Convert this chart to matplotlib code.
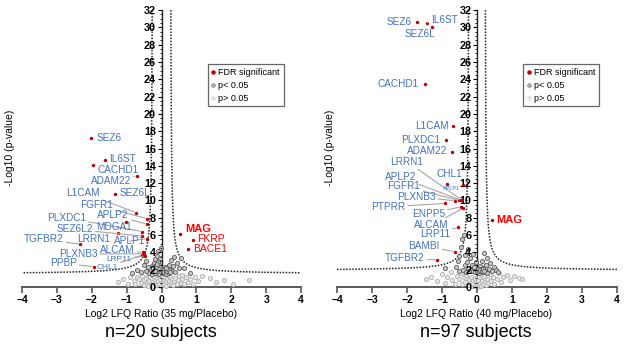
import numpy as np
import matplotlib
matplotlib.use('Agg')
import matplotlib.pyplot as plt
from matplotlib.lines import Line2D

plt.rcParams['font.family'] = ['Liberation Sans', 'DejaVu Sans']

# ---- left panel (35 mg, n=20) ----
left_genes = ['SEZ6', 'IL6ST', 'CACHD1', 'ADAM22', 'SEZ6L', 'L1CAM', 'FGFR1',
              'APLP2', 'PLXDC1', 'MDGA1', 'SEZ6L2', 'LRRN1', 'TGFBR2', 'APLP1',
              'ALCAM', 'PLXNB3', 'LRP11', 'PPBP', 'CHL1']
left_x = [-2.01, -1.62, -1.97, -0.70, -1.32, -0.73, -0.41, -0.41, -0.55, -1.03,
          -0.57, -1.25, -2.34, -0.41, -0.54, -0.50, -0.47, -1.94, -0.55]
left_y = [17.2, 14.7, 14.05, 12.85, 10.8, 8.6, 7.9, 7.27, 6.4, 7.47,
          5.9, 6.3, 4.96, 5.6, 4.0, 3.85, 3.6, 2.35, 3.7]
left_up_genes = ['MAG', 'FKRP', 'BACE1']
left_up_x = [0.54, 0.90, 0.75]
left_up_y = [6.08, 5.4, 4.35]

left_sig_x = [-0.35, -0.3, -0.28, -0.26, -0.24, -0.22, -0.2, -0.19, -0.18, -0.16,
              -0.15, -0.14, -0.12, -0.11, -0.1, -0.09, -0.08, -0.07, -0.06, -0.05,
              -0.04, -0.03, -0.02, 0.03, 0.05, 0.08, 0.1, 0.12, 0.14, 0.16,
              0.18, 0.2, 0.22, 0.25, 0.28, 0.3, 0.33, 0.36, 0.4, 0.45,
              0.5, 0.55, -0.4, -0.45, -0.5, -0.6, -0.7, -0.85, -0.45, 0.64,
              -0.25, -0.2, -0.15, -0.12, -0.08, 0.15, 0.2, 0.24, 0.12, 0.83]
left_sig_y = [1.6, 2.0, 1.5, 2.4, 1.8, 2.8, 2.1, 1.6, 3.2, 2.5,
              1.9, 3.6, 2.2, 1.7, 2.9, 4.2, 2.0, 1.5, 2.6, 3.4,
              1.8, 2.3, 4.5, 1.6, 2.0, 1.7, 2.3, 1.9, 1.55, 2.1,
              1.75, 2.6, 1.6, 2.0, 3.1, 1.8, 2.4, 3.5, 1.7, 2.8,
              2.2, 3.3, 2.3, 1.9, 2.6, 1.7, 2.0, 1.6, 3.0, 2.16,
              2.2, 1.9, 2.3, 2.7, 2.1, 1.8, 2.0, 1.7, 2.2, 1.58]
left_ns_x = [-1.25, -1.1, -0.95, -0.9, -0.8, -0.75, -0.7, -0.65, -0.6, -0.55,
             -0.5, -0.5, -0.45, -0.42, -0.4, -0.38, -0.35, -0.33, -0.3, -0.28,
             -0.25, -0.24, -0.22, -0.2, -0.18, -0.16, -0.14, -0.12, -0.1, -0.08,
             -0.06, -0.04, -0.02, 0.0, 0.02, 0.04, 0.06, 0.08, 0.1, 0.12,
             0.14, 0.17, 0.2, 0.22, 0.25, 0.28, 0.3, 0.33, 0.36, 0.4,
             0.43, 0.47, 0.5, 0.55, 0.6, 0.65, 0.7, 0.75, 0.82, 0.9,
             0.95, 1.05, 1.17, 1.4, 1.55, 1.79, 2.05, 2.5, 0.59]
left_ns_y = [0.6, 0.9, 0.4, 1.1, 0.7, 0.3, 1.2, 0.9, 0.5, 1.3,
             0.2, 0.8, 1.0, 0.5, 1.3, 0.15, 0.7, 1.1, 0.4, 0.9,
             0.1, 0.6, 1.2, 0.3, 0.8, 0.5, 1.0, 0.2, 0.65, 1.3,
             0.35, 0.9, 0.1, 0.5, 1.1, 0.25, 0.75, 0.4, 1.2, 0.15,
             0.6, 0.95, 0.3, 0.7, 1.15, 0.45, 0.9, 0.2, 0.65, 1.0,
             0.35, 0.8, 1.3, 0.5, 0.9, 0.3, 1.1, 0.6, 0.95, 0.4,
             1.2, 0.7, 1.27, 1.0, 0.6, 0.8, 0.4, 0.8, 1.39]

# ---- right panel (40 mg, n=97) ----
right_genes = ['SEZ6', 'IL6ST', 'SEZ6L', 'CACHD1', 'L1CAM', 'PLXDC1', 'ADAM22',
               'LRRN1', 'CHL1', 'APLP1', 'APLP2', 'FGFR1', 'PLXNB3', 'PTPRR',
               'ENPP5', 'ALCAM', 'LRP11', 'BAMBI', 'TGFBR2']
right_x = [-1.72, -1.42, -1.28, -1.49, -0.68, -0.89, -0.72,
           -0.45, -0.41, -0.87, -0.44, -0.50, -0.63, -0.91,
           -0.46, -0.41, -0.53, -0.63, -1.13]
right_y = [30.6, 30.55, 30.0, 23.5, 18.6, 17.0, 15.6,
           10.1, 11.8, 11.9, 10.0, 10.0, 9.97, 9.66,
           9.27, 9.08, 6.9, 4.08, 3.12]
right_up_genes = ['MAG']
right_up_x = [0.44]
right_up_y = [7.74]

right_sig_x = [-0.4, -0.35, -0.3, -0.28, -0.25, -0.22, -0.2, -0.18, -0.15, -0.12,
               -0.1, -0.08, -0.06, -0.04, 0.04, 0.06, 0.08, 0.1, 0.12, 0.14,
               0.16, 0.18, 0.2, 0.22, 0.25, 0.28, 0.3, 0.33, 0.37, 0.42,
               0.48, 0.55, 0.6, -0.5, -0.6, -0.55, -0.5, -0.45, -0.42, -0.38,
               0.0, 0.02, 0.05, 0.09, 0.13, 0.17, 0.21, -0.33, -0.27, -0.9]
right_sig_y = [2.0, 2.5, 1.7, 2.9, 2.2, 1.8, 3.3, 2.0, 2.6, 1.9,
               3.8, 2.3, 1.7, 2.9, 2.0, 1.6, 2.4, 1.8, 2.1, 3.0,
               1.7, 2.2, 3.9, 1.9, 2.6, 1.6, 3.4, 2.1, 2.8, 1.9,
               2.3, 2.0, 1.7, 1.8, 2.3, 3.0, 3.6, 4.6, 5.5, 6.0,
               1.9, 2.1, 1.8, 2.0, 1.9, 2.1, 1.8, 3.7, 4.4, 2.2]
right_ns_x = [-1.45, -1.3, -1.15, -1.0, -0.9, -0.85, -0.75, -0.7, -0.62, -0.58,
              -0.5, -0.46, -0.42, -0.38, -0.34, -0.3, -0.27, -0.24, -0.21, -0.18,
              -0.15, -0.12, -0.1, -0.07, -0.05, -0.03, -0.01, 0.01, 0.03, 0.05,
              0.07, 0.09, 0.11, 0.13, 0.16, 0.19, 0.22, 0.25, 0.28, 0.32,
              0.36, 0.4, 0.45, 0.5, 0.56, 0.62, 0.68, 0.75, 0.85, 0.95,
              1.05, 1.2, 1.3, -0.2, 0.3]
right_ns_y = [0.9, 1.2, 0.7, 1.5, 0.5, 1.1, 1.7, 0.8, 0.4, 1.3,
              0.9, 1.6, 0.3, 1.1, 0.6, 1.4, 0.2, 0.9, 0.5, 1.2,
              0.1, 0.7, 0.35, 1.0, 0.15, 0.55, 0.05, 0.4, 0.8, 0.2,
              1.1, 0.5, 0.1, 0.75, 0.3, 1.3, 0.6, 0.2, 0.95, 0.45,
              1.5, 0.7, 1.2, 0.4, 0.9, 1.6, 0.6, 1.1, 1.4, 0.8,
              1.3, 1.0, 0.9, 1.8, 1.85]

# label placement (x, y, ha, leader line, fontsize)
FS = 7.2
left_lab = {
    'SEZ6': (-1.87, 17.2, 'left', False, FS), 'IL6ST': (-1.49, 14.8, 'left', False, FS),
    'CACHD1': (-1.84, 13.5, 'left', False, FS), 'ADAM22': (-1.45, 12.24, 'center', True, FS),
    'SEZ6L': (-1.2, 10.85, 'left', False, FS), 'L1CAM': (-2.25, 10.9, 'center', True, FS),
    'FGFR1': (-1.86, 9.47, 'center', True, FS), 'APLP2': (-1.39, 8.3, 'center', True, FS),
    'PLXDC1': (-2.73, 8.0, 'center', True, FS), 'MDGA1': (-1.35, 6.9, 'center', False, FS),
    'SEZ6L2': (-2.5, 6.66, 'center', True, FS), 'LRRN1': (-1.95, 5.55, 'center', False, FS),
    'TGFBR2': (-3.39, 5.5, 'center', True, FS), 'APLP1': (-0.92, 5.3, 'center', True, FS),
    'ALCAM': (-1.26, 4.3, 'center', True, FS), 'PLXNB3': (-2.39, 3.8, 'center', True, FS),
    'LRP11': (-1.21, 3.2, 'center', True, 6), 'PPBP': (-2.82, 2.74, 'center', True, FS),
    'CHL1': (-1.56, 2.3, 'center', True, 6),
}
left_up_lab = {'MAG': (0.69, 6.66), 'FKRP': (1.02, 5.5), 'BACE1': (0.9, 4.35)}
right_lab = {
    'SEZ6': (-1.87, 30.6, 'right', False, FS), 'IL6ST': (-1.3, 30.9, 'left', True, FS),
    'SEZ6L': (-1.63, 29.2, 'center', False, FS), 'CACHD1': (-1.65, 23.5, 'right', False, FS),
    'L1CAM': (-0.82, 18.6, 'right', False, FS), 'PLXDC1': (-1.04, 17.0, 'right', False, FS),
    'ADAM22': (-0.85, 15.7, 'right', False, FS), 'LRRN1': (-2.0, 14.5, 'center', True, FS),
    'CHL1': (-0.8, 13.1, 'center', False, FS), 'APLP1': (-0.72, 11.4, 'center', False, 4),
    'APLP2': (-2.18, 12.67, 'center', True, FS), 'FGFR1': (-2.09, 11.66, 'center', True, FS),
    'PLXNB3': (-1.74, 10.43, 'center', True, FS), 'PTPRR': (-2.54, 9.27, 'center', True, FS),
    'ENPP5': (-1.39, 8.45, 'center', True, FS), 'ALCAM': (-1.3, 7.12, 'center', True, FS),
    'LRP11': (-1.2, 6.1, 'center', True, FS), 'BAMBI': (-1.52, 4.73, 'center', True, FS),
    'TGFBR2': (-2.06, 3.31, 'center', True, FS),
}
right_up_lab = {'MAG': (0.56, 7.74)}

BLUE = '#4472C4'
RED_DOT = '#C00000'
LINE = '#A6A6A6'


def threshold(ax, y0, x0, c):
    xs = np.linspace(x0 + c / (32 - y0), 4, 400)
    ys = y0 + c / (xs - x0)
    for s in (1, -1):
        ax.plot(s * xs, ys, color='#222222', lw=1.1, ls=(0, (1, 1)), zorder=2)


def panel(ax, genes, gx, gy, lab, up_genes, ux, uy, up_lab,
          sx, sy, nx, ny, curve, xlabel, subtitle, cx):
    ax.scatter(nx, ny, s=9, facecolor='#e6e6e6', edgecolor='#b0b0b0',
               linewidth=0.6, zorder=3, clip_on=False)
    ax.scatter(sx, sy, s=9, facecolor='#c8c8c8', edgecolor='#5a5a5a',
               linewidth=0.6, zorder=3, clip_on=False)
    threshold(ax, *curve)
    ax.scatter(gx + ux, gy + uy, s=6, color=RED_DOT, zorder=5, linewidth=0)

    for g, x, y in zip(genes, gx, gy):
        lx, ly, ha, line, fs = lab[g]
        props = dict(arrowstyle='-', color=LINE, lw=0.8, shrinkA=0,
                     shrinkB=1.5) if line else None
        ax.annotate(g, xy=(x, y), xytext=(lx, ly), ha=ha, va='center',
                    fontsize=fs, color=BLUE, arrowprops=props, zorder=6)
    for g, x, y in zip(up_genes, ux, uy):
        lx, ly = up_lab[g]
        ax.annotate(g, xy=(x, y), xytext=(lx, ly), ha='left', va='center',
                    fontsize=8 if g == 'MAG' else 7.5, color='#FF0000',
                    fontweight='bold' if g == 'MAG' else 'normal', zorder=6)

    ax.set_xlim(-4, 4)
    ax.set_ylim(0, 32)
    ax.spines['left'].set_position(('data', 0))
    ax.spines['top'].set_visible(False)
    ax.spines['right'].set_visible(False)
    ax.spines['bottom'].set_color('#595959')
    ax.spines['bottom'].set_linewidth(1.4)
    ax.spines['left'].set_color('#222222')
    ax.spines['left'].set_linewidth(1.0)
    ax.xaxis.set_zorder(4)
    ax.yaxis.set_zorder(4)
    ax.set_xticks(range(-4, 5))
    ax.set_yticks(range(0, 33, 2))
    ax.set_yticks(np.arange(0, 32.1, 0.5), minor=True)
    ax.tick_params(axis='x', length=4, width=1.2, color='#595959', pad=2,
                   labelsize=7.5)
    ax.tick_params(axis='y', which='major', length=3, width=0.8, pad=1,
                   labelsize=7.8)
    ax.tick_params(axis='y', which='minor', length=1.5, width=0.6)
    for t in ax.get_xticklabels() + ax.get_yticklabels():
        t.set_fontweight('bold')

    handles = [Line2D([], [], ls='', marker='o', ms=2.2, color=RED_DOT),
               Line2D([], [], ls='', marker='o', ms=2.5, mfc='#c8c8c8', mec='#5a5a5a', mew=0.5),
               Line2D([], [], ls='', marker='o', ms=2.5, mfc='#eeeeee', mec='#cccccc', mew=0.5)]
    leg = ax.legend(handles, ['FDR significant', 'p< 0.05', 'p> 0.05'],
                    loc='upper left', bbox_to_anchor=(0.665, 0.805), fontsize=6.5,
                    frameon=True, fancybox=False, handlelength=0.5,
                    handletextpad=0.3, borderpad=0.4, labelspacing=0.45,
                    borderaxespad=0)
    leg.get_frame().set_edgecolor('#404040')
    leg.get_frame().set_linewidth(0.9)

    fig.text(cx, 0.115, xlabel, ha='center', va='center', fontsize=7.5)
    fig.text(cx, 0.062, subtitle, ha='center', va='center', fontsize=13)


fig = plt.figure(figsize=(6.29, 3.55), dpi=100)
ax1 = fig.add_axes([0.035, 0.1915, 0.4436, 0.780])
ax2 = fig.add_axes([0.5358, 0.1915, 0.445, 0.780])

panel(ax1, left_genes, left_x, left_y, left_lab, left_up_genes, left_up_x,
      left_up_y, left_up_lab, left_sig_x, left_sig_y, left_ns_x, left_ns_y,
      (1.5, 0.25, 0.55), 'Log2 LFQ Ratio (35 mg/Placebo)', 'n=20 subjects', 0.256)
panel(ax2, right_genes, right_x, right_y, right_lab, right_up_genes, right_up_x,
      right_up_y, right_up_lab, right_sig_x, right_sig_y, right_ns_x, right_ns_y,
      (1.9, 0.224, 0.52), 'Log2 LFQ Ratio (40 mg/Placebo)', 'n=97 subjects', 0.757)

fig.text(0.016, 0.583, '-Log10 (p-value)', rotation=90, ha='center',
         va='center', fontsize=7.5)
fig.text(0.525, 0.583, '-Log10 (p-value)', rotation=90, ha='center',
         va='center', fontsize=7.5)

fig.savefig('out.png', dpi=100)
